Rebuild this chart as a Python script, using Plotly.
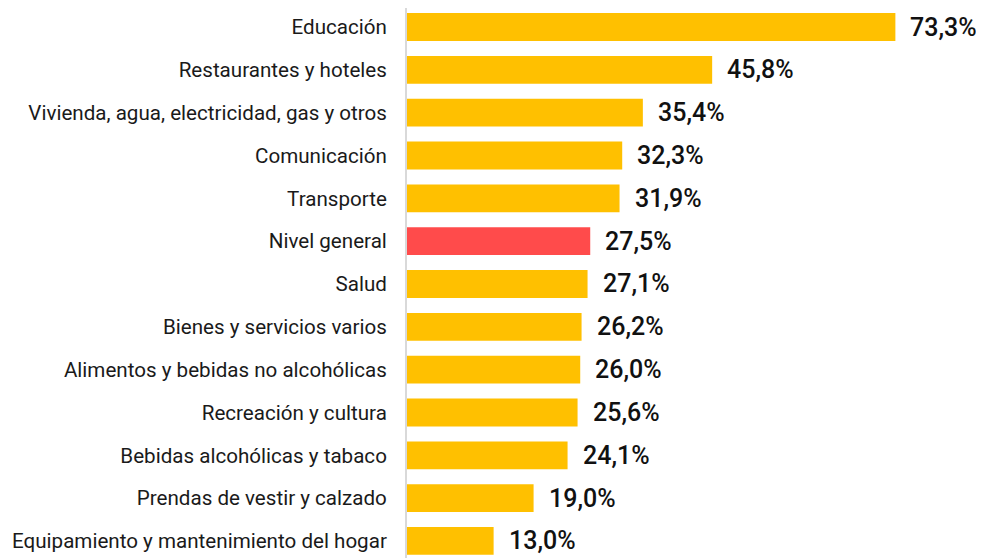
import plotly.graph_objects as go

categories = [
    "Educación",
    "Restaurantes y hoteles",
    "Vivienda, agua, electricidad, gas y otros",
    "Comunicación",
    "Transporte",
    "Nivel general",
    "Salud",
    "Bienes y servicios varios",
    "Alimentos y bebidas no alcohólicas",
    "Recreación y cultura",
    "Bebidas alcohólicas y tabaco",
    "Prendas de vestir y calzado",
    "Equipamiento y mantenimiento del hogar",
]
values = [73.3, 45.8, 35.4, 32.3, 31.9, 27.5, 27.1, 26.2, 26.0, 25.6, 24.1, 19.0, 13.0]
highlight = "Nivel general"

YELLOW = "#FFC000"
RED = "#FF4B4B"
colors = [RED if c == highlight else YELLOW for c in categories]
labels = [f"{v:.1f}%".replace(".", ",") for v in values]

fig = go.Figure()
fig.add_trace(go.Bar(
    x=values, y=categories, orientation="h",
    marker=dict(color=colors, line=dict(width=0)),
    hoverinfo="skip",
))

for c, v, t in zip(categories, values, labels):
    fig.add_annotation(
        x=v, y=c, text=t, showarrow=False, xanchor="left", yanchor="middle",
        xshift=13, font=dict(family="Roboto", size=25, color="#111111", weight=500),
    )

# page body has an 8px margin, so the figure is sized/offset to compensate
fig.update_layout(
    width=976, height=550,
    margin=dict(l=399, r=0, t=0, b=0, autoexpand=False),
    paper_bgcolor="white", plot_bgcolor="white",
    bargap=0.35, showlegend=False,
    font=dict(family="Roboto", size=20.6, color="#1a1a1a"),
)
fig.update_xaxes(range=[0, 86.6], visible=False, showgrid=False, zeroline=False,
                 automargin=False)
fig.update_yaxes(
    range=[12.398, -0.4436], type="category", automargin=False,
    showline=True, linecolor="#d9d9d9", linewidth=2,
    showgrid=False, zeroline=False, ticks="", ticklabelstandoff=14,
    tickfont=dict(family="Roboto", size=20.6, color="#1a1a1a"),
)

fig.write_html("out.html")
